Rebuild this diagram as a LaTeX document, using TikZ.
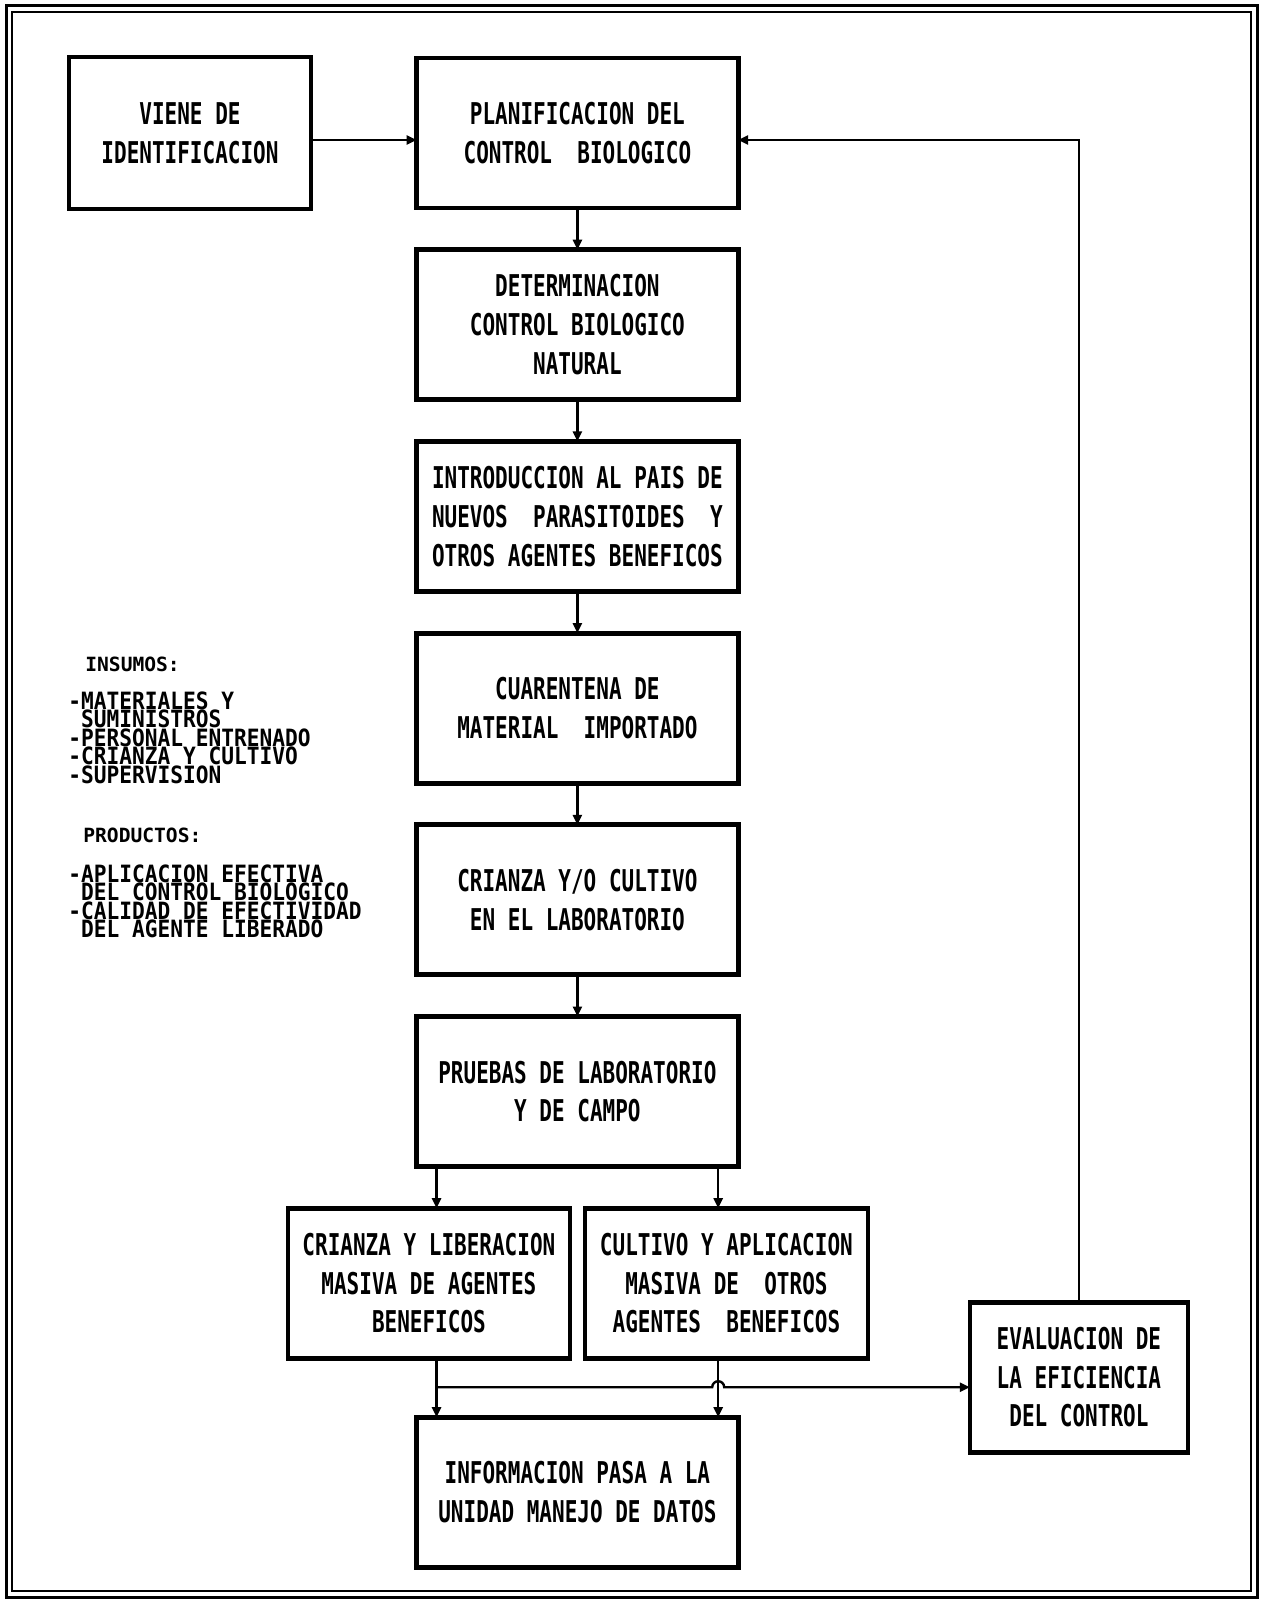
\documentclass[tikz,border=0pt]{standalone}
\usepackage{fontspec}
\newfontfamily\plotfont{DejaVu Sans Mono}[FakeStretch=0.70]
\newfontfamily\listfont{DejaVu Sans Mono}[FakeStretch=0.89]
\newfontfamily\headfont{DejaVu Sans Mono}
\usetikzlibrary{arrows.meta,positioning}

\begin{document}
\begin{tikzpicture}[
    x=0.5pt, y=-0.5pt,
    node distance=20.85pt,
    box/.style={draw, line width=2.4pt, outer sep=0pt, align=center, minimum width=160.8pt, minimum height=75pt, inner sep=2pt,
        font=\plotfont\bfseries\fontsize{15}{19.4}\selectfont},
    head/.style={inner sep=0pt, font=\headfont\bfseries\fontsize{9.8}{10}\selectfont},
    items/.style={inner sep=0pt, align=left, font=\listfont\bfseries\fontsize{11.9}{9.3}\selectfont},
    link/.style={-{Triangle[length=5pt,width=4.5pt]}, line width=1.2pt}
]
\useasboundingbox (0,0) rectangle (1263,1601);
% double frame
\draw[line width=1.5pt] (6,5) rectangle (1257,1597);
\draw[line width=1.3pt] (12,12) rectangle (1251,1591);

% main column
\node[box] (planif) at (577.4,133) {PLANIFICACION DEL\\CONTROL~~BIOLOGICO};
\node[box, below=of planif] (determ) {DETERMINACION\\CONTROL BIOLOGICO\\NATURAL};
\node[box, below=of determ] (intro) {INTRODUCCION AL PAIS DE\\NUEVOS~~PARASITOIDES~~Y\\OTROS AGENTES BENEFICOS};
\node[box, below=of intro] (cuarent) {CUARENTENA DE\\MATERIAL~~IMPORTADO};
\node[box, below=of cuarent] (crianzalab) {CRIANZA Y/O CULTIVO\\EN EL LABORATORIO};
\node[box, below=of crianzalab] (pruebas) {PRUEBAS DE LABORATORIO\\Y DE CAMPO};
\node[box, left=52.8pt of planif, minimum width=121pt, minimum height=76pt] (viene) {VIENE DE\\IDENTIFICACION};
\node[box, below=of pruebas, xshift=-74.25pt, minimum width=141pt] (crianzalib) {CRIANZA Y LIBERACION\\MASIVA DE AGENTES\\BENEFICOS};
\node[box, right=7.5pt of crianzalib, minimum width=141.5pt] (cultivo) {CULTIVO Y APLICACION\\MASIVA DE~~OTROS\\AGENTES~~BENEFICOS};
\node[box, anchor=north] (info) at ([yshift=-29.5pt]crianzalib.south -| pruebas.south) {INFORMACION PASA A LA\\UNIDAD MANEJO DE DATOS};
\node[box, anchor=west, minimum width=109pt] (eval) at ([xshift=51pt,yshift=-47pt]cultivo.east) {EVALUACION DE\\LA EFICIENCIA\\DEL CONTROL};

% left notes
\node[head, anchor=west] (insumos) at (85,664) {INSUMOS:};
\node[items, anchor=north west] (insumoslist) at (68,691) {-MATERIALES Y\\\hphantom{-}SUMINISTROS\\-PERSONAL ENTRENADO\\-CRIANZA Y CULTIVO\\-SUPERVISION};
\node[head, anchor=west] (productos) at (83,835) {PRODUCTOS:};
\node[items, anchor=north west] (productoslist) at (68,864) {-APLICACION EFECTIVA\\\hphantom{-}DEL CONTROL BIOLOGICO\\-CALIDAD DE EFECTIVIDAD\\\hphantom{-}DEL AGENTE LIBERADO};

\coordinate (splitL) at ([xshift=10pt]info.north west);
\coordinate (splitR) at ([xshift=-10pt]info.north east);
\coordinate (bus) at ([yshift=-14.5pt]crianzalib.south);

\draw[link] ([yshift=-3.5pt]viene.east) -- ([yshift=-3.5pt]planif.west);
\draw[link] (planif) -- (determ);
\draw[link] (determ) -- (intro);
\draw[link] (intro) -- (cuarent);
\draw[link] (cuarent) -- (crianzalab);
\draw[link] (crianzalab) -- (pruebas);
\draw[link] (pruebas.south -| splitL) -- (crianzalib.north -| splitL);
\draw[link] (pruebas.south -| splitR) -- (cultivo.north -| splitR);
\draw[link] (crianzalib.south -| splitL) -- (splitL);
\draw[link] (cultivo.south -| splitR) -- (splitR);
\draw[link] (bus -| splitL) -- ([xshift=-3pt]bus -| splitR) arc[start angle=180, end angle=0, radius=3pt] -- (bus -| eval.west);
\draw[link] (eval.north) |- ([yshift=-3.5pt]planif.east);
\end{tikzpicture}
\end{document}
